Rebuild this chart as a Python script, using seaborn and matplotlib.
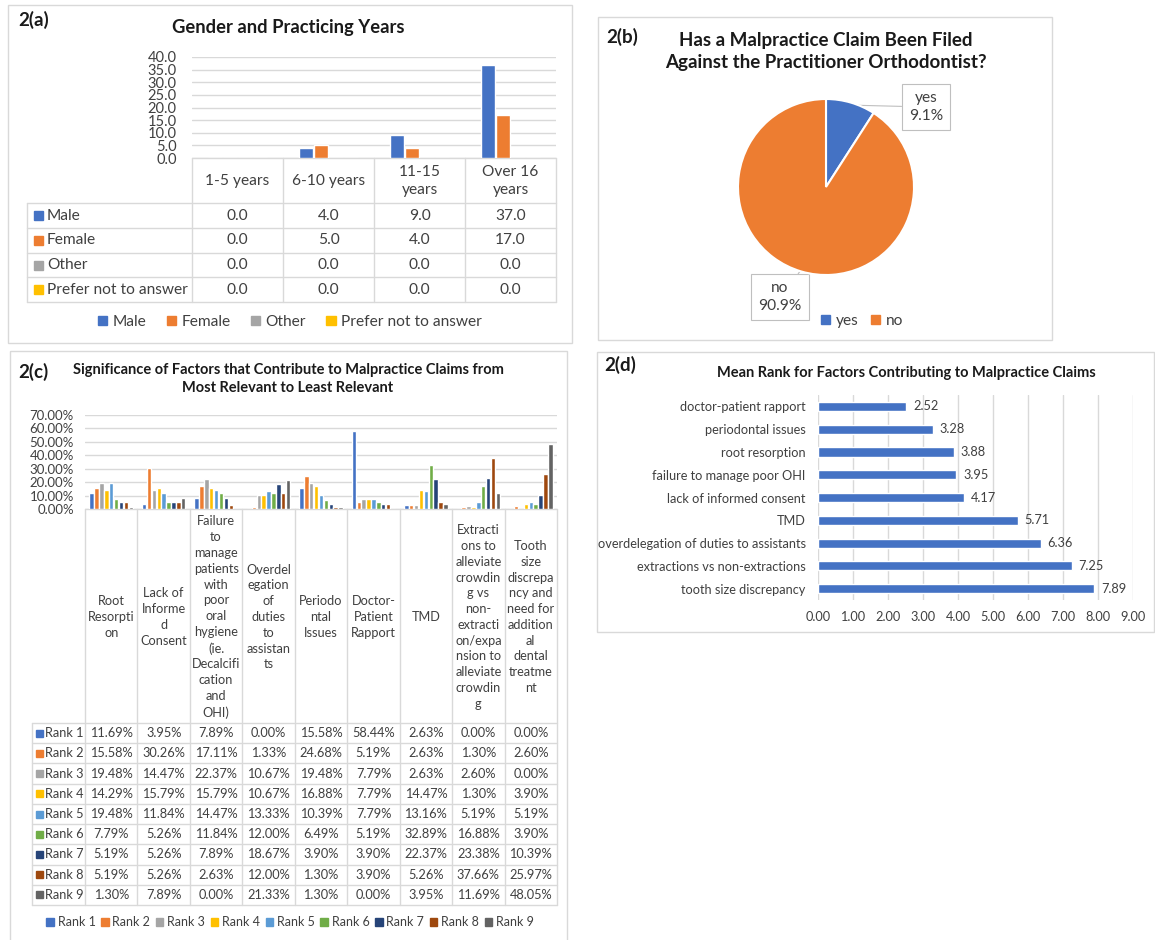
import numpy as np
import pandas as pd
import matplotlib
matplotlib.use("Agg")
import matplotlib.pyplot as plt
import seaborn as sns
from matplotlib.patches import Rectangle, Patch

# ---- data ----
years = ["1-5 years", "6-10 years", "11-15 years", "Over 16 years"]
year_headers = ["1-5 years", "6-10 years", "11-15\nyears", "Over 16\nyears"]
genders = ["Male", "Female", "Other", "Prefer not to answer"]
male = [0.0, 4.0, 9.0, 37.0]
female = [0.0, 5.0, 4.0, 17.0]
other = [0.0, 0.0, 0.0, 0.0]
prefer_not = [0.0, 0.0, 0.0, 0.0]

claim_labels = ["yes", "no"]
claim_pct = [9.1, 90.9]

factor_headers = [
    "Root\nResorpti\non",
    "Lack of\nInforme\nd\nConsent",
    "Failure\nto\nmanage\npatients\nwith\npoor\noral\nhygiene\n(ie.\nDecalcifi\ncation\nand\nOHI)",
    "Overdel\negation\nof\nduties\nto\nassistan\nts",
    "Periodo\nntal\nIssues",
    "Doctor-\nPatient\nRapport",
    "TMD",
    "Extracti\nons to\nalleviate\ncrowdin\ng vs\nnon-\nextracti\non/expa\nnsion to\nalleviate\ncrowdin\ng",
    "Tooth\nsize\ndiscrepa\nncy and\nneed for\naddition\nal\ndental\ntreatme\nnt",
]
ranks = ["Rank 1", "Rank 2", "Rank 3", "Rank 4", "Rank 5", "Rank 6", "Rank 7", "Rank 8", "Rank 9"]
rank1 = [11.69, 3.95, 7.89, 0.00, 15.58, 58.44, 2.63, 0.00, 0.00]
rank2 = [15.58, 30.26, 17.11, 1.33, 24.68, 5.19, 2.63, 1.30, 2.60]
rank3 = [19.48, 14.47, 22.37, 10.67, 19.48, 7.79, 2.63, 2.60, 0.00]
rank4 = [14.29, 15.79, 15.79, 10.67, 16.88, 7.79, 14.47, 1.30, 3.90]
rank5 = [19.48, 11.84, 14.47, 13.33, 10.39, 7.79, 13.16, 5.19, 5.19]
rank6 = [7.79, 5.26, 11.84, 12.00, 6.49, 5.19, 32.89, 16.88, 3.90]
rank7 = [5.19, 5.26, 7.89, 18.67, 3.90, 3.90, 22.37, 23.38, 10.39]
rank8 = [5.19, 5.26, 2.63, 12.00, 1.30, 3.90, 5.26, 37.66, 25.97]
rank9 = [1.30, 7.89, 0.00, 21.33, 1.30, 0.00, 3.95, 11.69, 48.05]

mean_factors = ["doctor-patient rapport", "periodontal issues", "root resorption",
                "failure to manage poor OHI", "lack of informed consent", "TMD",
                "overdelegation of duties to assistants", "extractions vs non-extractions",
                "tooth size discrepancy"]
mean_rank = [2.52, 3.28, 3.88, 3.95, 4.17, 5.71, 6.36, 7.25, 7.89]

# office palette
office = ["#4472C4", "#ED7D31", "#A5A5A5", "#FFC000", "#5B9BD5",
          "#70AD47", "#264478", "#9E480E", "#636363"]
GRID = "#d9d9d9"
TXT = "#404040"
TITLE = "#1a1a1a"

sns.set_style("white")
plt.rcParams["font.family"] = ["Lato", "DejaVu Sans"]
plt.rcParams["text.color"] = TXT
plt.rcParams["xtick.color"] = TXT
plt.rcParams["ytick.color"] = TXT

W, H = 1155, 940
fig = plt.figure(figsize=(W / 100, H / 100), dpi=100)
bg = fig.add_axes([0, 0, 1, 1])
bg.set_xlim(0, W)
bg.set_ylim(H, 0)
bg.axis("off")


def px_axes(x0, y0, x1, y1):
    a = fig.add_axes([x0 / W, 1 - y1 / H, (x1 - x0) / W, (y1 - y0) / H])
    a.patch.set_alpha(0)
    return a


def box(x0, y0, x1, y1):
    bg.add_patch(Rectangle((x0, y0), x1 - x0, y1 - y0, fill=False, ec=GRID, lw=1))


def hline(y, x0, x1):
    bg.plot([x0, x1], [y, y], color=GRID, lw=1)


def vline(x, y0, y1):
    bg.plot([x, x], [y0, y1], color=GRID, lw=1)


def fig_legend(labels, colors, cx, cy, size, spacing, textpad=0.35):
    handles = [Patch(color=c) for c in colors]
    fig.legend(handles, labels, loc="center", bbox_to_anchor=(cx / W, 1 - cy / H),
               ncol=len(labels), frameon=False, fontsize=size, handlelength=0.6,
               handleheight=0.6, handletextpad=textpad, columnspacing=spacing,
               labelcolor=TXT)


# ================= 2(a) =================
box(8, 5, 572, 343)
bg.text(18, 20, "2(a)", fontsize=13.5, fontweight="bold", color=TITLE, va="center")
bg.text(288, 27, "Gender and Practicing Years", fontsize=13.2, fontweight="bold",
        color=TITLE, ha="center", va="center")

df_a = pd.DataFrame({
    "years": years * 4,
    "gender": np.repeat(genders, 4),
    "count": male + female + other + prefer_not,
})
ax = px_axes(192, 57, 556, 158)
sns.barplot(data=df_a, x="years", y="count", hue="gender", order=years,
            hue_order=genders, palette=office[:4], width=0.66, gap=0.12,
            saturation=1, legend=False, ax=ax)
ax.set_xlim(-0.5, 3.5)
ax.set_ylim(0, 40)
ax.set_yticks(np.arange(0, 41, 5))
ax.set_yticklabels([f"{v:.1f}" for v in np.arange(0, 41, 5)])
ax.set_xticks([])
ax.set_xlabel("")
ax.set_ylabel("")
ax.yaxis.grid(True, color=GRID, lw=1)
ax.set_axisbelow(True)
sns.despine(ax=ax, left=True, bottom=True)
ax.tick_params(axis="y", length=0, pad=11, labelsize=10.5)

# data table under the chart
x0a, cwa = 192, 91
rows_a = [male, female, other, prefer_not]
hline(158, 192, 556)
for k in range(5):
    vline(x0a + k * cwa, 158, 302)
vline(27, 203, 302)
for r in range(5):
    hline(203 + r * 24.75, 27, 556)
for i, lab in enumerate(year_headers):
    bg.text(x0a + (i + 0.5) * cwa, 181, lab, fontsize=11.2, ha="center", va="center",
            linespacing=1.3)
for r, (g, vals) in enumerate(zip(genders, rows_a)):
    yc = 215.5 + r * 24.75
    bg.add_patch(Rectangle((34, yc - 4.5), 9, 9, color=office[r]))
    bg.text(47, yc, g, fontsize=11.2, va="center")
    for i, v in enumerate(vals):
        bg.text(x0a + (i + 0.5) * cwa, yc, f"{v:.1f}", fontsize=11.2, ha="center", va="center")
fig_legend(genders, office[:4], 290, 322, 11.2, 1.3)

# ================= 2(b) =================
box(598, 17, 1052, 340)
bg.text(606, 37, "2(b)", fontsize=13.5, fontweight="bold", color=TITLE, va="center")
bg.text(826, 51.5, "Has a Malpractice Claim Been Filed\nAgainst the Practitioner Orthodontist?",
        fontsize=13.5, fontweight="bold", color=TITLE, ha="center", va="center",
        linespacing=1.4)
axp = px_axes(738, 99, 914, 275)
wedges, _ = axp.pie(claim_pct, colors=office[:2], startangle=90, counterclock=False,
                    wedgeprops=dict(edgecolor="white", linewidth=1.5))
axp.set_xlim(-1, 1)
axp.set_ylim(-1, 1)
label_pos = [(926, 107), (780, 297)]
cum = 0
for lab, p, pos in zip(claim_labels, claim_pct, label_pos):
    ang = np.deg2rad(90 - 360 * (cum + p / 2) / 100)
    cum += p
    bg.annotate(f"{lab}\n{p:.1f}%", xy=(0.97 * np.cos(ang), 0.97 * np.sin(ang)),
                xycoords=axp.transData, xytext=pos, textcoords="data",
                fontsize=11.2, ha="center", va="center", linespacing=1.35,
                bbox=dict(boxstyle="square,pad=0.45", fc="white", ec="#bfbfbf", lw=0.8),
                arrowprops=dict(arrowstyle="-", color="#bfbfbf", lw=0.8,
                                shrinkA=0, shrinkB=0))
fig_legend(claim_labels, office[:2], 862, 321, 11.2, 0.8)

# ================= 2(c) =================
box(10, 351, 567, 945)
bg.text(18, 372, "2(c)", fontsize=13.5, fontweight="bold", color=TITLE, va="center")
bg.text(288, 379, "Significance of Factors that Contribute to Malpractice Claims from\n"
        "Most Relevant to Least Relevant", fontsize=10.5, fontweight="bold", color=TITLE,
        ha="center", va="center", linespacing=1.3)

rank_rows = [rank1, rank2, rank3, rank4, rank5, rank6, rank7, rank8, rank9]
df_c = pd.DataFrame({
    "factor": factor_headers * 9,
    "rank": np.repeat(ranks, 9),
    "pct": np.concatenate(rank_rows),
})
axc = px_axes(85, 415, 557, 509)
sns.barplot(data=df_c, x="factor", y="pct", hue="rank", order=factor_headers,
            hue_order=ranks, palette=office, width=0.84, gap=0.1, saturation=1,
            legend=False, ax=axc)
axc.set_xlim(-0.5, 8.5)
axc.set_ylim(0, 70)
axc.set_yticks(np.arange(0, 71, 10))
axc.set_yticklabels([f"{v:.2f}%" for v in np.arange(0, 71, 10)])
axc.set_xticks([])
axc.set_xlabel("")
axc.set_ylabel("")
axc.yaxis.grid(True, color=GRID, lw=1)
axc.set_axisbelow(True)
sns.despine(ax=axc, left=True, bottom=True)
axc.tick_params(axis="y", length=0, pad=8, labelsize=9.5)

x0c, cwc = 85, (557 - 85) / 9
top_c, rh_c = 723, (905 - 723) / 9
hline(509, 85, 557)
for k in range(10):
    vline(x0c + k * cwc, 509, 905)
vline(32, top_c, 905)
for r in range(10):
    hline(top_c + r * rh_c, 32, 557)
for i, lab in enumerate(factor_headers):
    bg.text(x0c + (i + 0.5) * cwc, 617, lab, fontsize=9.2, ha="center", va="center",
            linespacing=1.38)
for r, (rk, vals) in enumerate(zip(ranks, rank_rows)):
    yc = top_c + (r + 0.5) * rh_c
    bg.add_patch(Rectangle((36, yc - 3.5), 7, 7, color=office[r]))
    bg.text(45, yc, rk, fontsize=9.2, va="center")
    for i, v in enumerate(vals):
        bg.text(x0c + (i + 0.5) * cwc, yc, f"{v:.2f}%", fontsize=9.2, ha="center", va="center")
fig_legend(ranks, office, 290, 922, 9.0, 0.45, textpad=0.3)

# ================= 2(d) =================
box(597, 352, 1154, 632)
bg.text(604, 365, "2(d)", fontsize=13.5, fontweight="bold", color=TITLE, va="center")
bg.text(906, 373, "Mean Rank for Factors Contributing to Malpractice Claims",
        fontsize=10.5, fontweight="bold", color=TITLE, ha="center", va="center")
axd = px_axes(818, 395, 1133, 600)
sns.barplot(x=mean_rank, y=mean_factors, orient="h", color=office[0], width=0.4,
            saturation=1, ax=axd)
axd.set_xlim(0, 9)
axd.set_xticks(np.arange(0, 10, 1))
axd.set_xticklabels([f"{v:.2f}" for v in np.arange(0, 10, 1)])
axd.xaxis.grid(True, color=GRID, lw=1)
axd.set_axisbelow(True)
sns.despine(ax=axd, left=True, bottom=True)
axd.tick_params(length=0, labelsize=9.2)
axd.tick_params(axis="y", pad=9)
axd.tick_params(axis="x", pad=8)
axd.bar_label(axd.containers[0], fmt="%.2f", padding=5, fontsize=9.2, color=TXT)

fig.savefig("out.png", dpi=100)
